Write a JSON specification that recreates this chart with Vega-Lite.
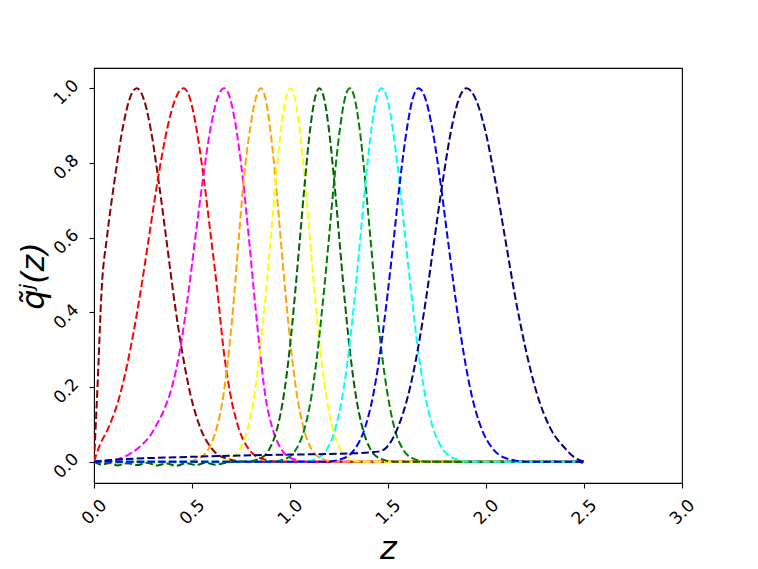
{
"$schema":"https://vega.github.io/schema/vega-lite/v6.json",
"width":588,"height":415,
"autosize":"none",
"padding":{"left":94,"top":68,"right":76,"bottom":86},
"background":"white",
"config":{"view":{"stroke":"black","strokeWidth":1.1},
"axis":{"labelFont":"DejaVu Sans","labelColor":"black","tickColor":"black","tickSize":5,"tickWidth":1.1,"domain":false,"grid":false,"titleFont":"DejaVu Sans","titleColor":"black","titleFontWeight":"normal","titleFontStyle":"italic","titleFontSize":32}},
"data":{"values":[
{"s":"s01","z":0,"q":0},{"s":"s01","z":0.017,"q":0.19},{"s":"s01","z":0.04,"q":0.47},{"s":"s01","z":0.066,"q":0.6},{"s":"s01","z":0.104,"q":0.75},{"s":"s01","z":0.149,"q":0.9},{"s":"s01","z":0.181,"q":0.97},{"s":"s01","z":0.218,"q":1},{"s":"s01","z":0.2545,"q":0.97},{"s":"s01","z":0.286,"q":0.9},{"s":"s01","z":0.33,"q":0.75},{"s":"s01","z":0.368,"q":0.6},{"s":"s01","z":0.405,"q":0.45},{"s":"s01","z":0.448,"q":0.3},{"s":"s01","z":0.492,"q":0.18},{"s":"s01","z":0.543,"q":0.09},{"s":"s01","z":0.601,"q":0.035},{"s":"s01","z":0.667,"q":0.01},{"s":"s01","z":0.78,"q":0},{"s":"s01","z":2.5,"q":0},
{"s":"s02","z":0,"q":0},{"s":"s02","z":0.03,"q":0.045},{"s":"s02","z":0.073,"q":0.09},{"s":"s02","z":0.133,"q":0.18},{"s":"s02","z":0.185,"q":0.3},{"s":"s02","z":0.236,"q":0.45},{"s":"s02","z":0.28,"q":0.6},{"s":"s02","z":0.324,"q":0.75},{"s":"s02","z":0.377,"q":0.9},{"s":"s02","z":0.414,"q":0.97},{"s":"s02","z":0.457,"q":1},{"s":"s02","z":0.491,"q":0.97},{"s":"s02","z":0.52,"q":0.9},{"s":"s02","z":0.562,"q":0.75},{"s":"s02","z":0.597,"q":0.6},{"s":"s02","z":0.631,"q":0.45},{"s":"s02","z":0.661,"q":0.3},{"s":"s02","z":0.696,"q":0.18},{"s":"s02","z":0.738,"q":0.09},{"s":"s02","z":0.788,"q":0.035},{"s":"s02","z":0.845,"q":0.01},{"s":"s02","z":0.95,"q":0},{"s":"s02","z":2.5,"q":0},
{"s":"s03","z":0,"q":0},{"s":"s03","z":0.08,"q":0.003},{"s":"s03","z":0.14,"q":0.01},{"s":"s03","z":0.196,"q":0.025},{"s":"s03","z":0.25,"q":0.048},{"s":"s03","z":0.29,"q":0.072},{"s":"s03","z":0.315,"q":0.095},{"s":"s03","z":0.358,"q":0.14},{"s":"s03","z":0.395,"q":0.195},{"s":"s03","z":0.439,"q":0.3},{"s":"s03","z":0.481,"q":0.45},{"s":"s03","z":0.517,"q":0.6},{"s":"s03","z":0.554,"q":0.75},{"s":"s03","z":0.597,"q":0.9},{"s":"s03","z":0.628,"q":0.97},{"s":"s03","z":0.664,"q":1},{"s":"s03","z":0.696,"q":0.97},{"s":"s03","z":0.723,"q":0.9},{"s":"s03","z":0.761,"q":0.75},{"s":"s03","z":0.79,"q":0.6},{"s":"s03","z":0.817,"q":0.45},{"s":"s03","z":0.846,"q":0.3},{"s":"s03","z":0.873,"q":0.18},{"s":"s03","z":0.91,"q":0.09},{"s":"s03","z":0.954,"q":0.035},{"s":"s03","z":1.004,"q":0.01},{"s":"s03","z":1.09,"q":0},{"s":"s03","z":2.5,"q":0},
{"s":"s04","z":0,"q":0},{"s":"s04","z":0.05,"q":-0.006},{"s":"s04","z":0.1,"q":-0.004},{"s":"s04","z":0.15,"q":-0.006},{"s":"s04","z":0.2,"q":0},{"s":"s04","z":0.46,"q":0},{"s":"s04","z":0.539,"q":0.01},{"s":"s04","z":0.585,"q":0.035},{"s":"s04","z":0.626,"q":0.09},{"s":"s04","z":0.661,"q":0.18},{"s":"s04","z":0.689,"q":0.3},{"s":"s04","z":0.716,"q":0.45},{"s":"s04","z":0.739,"q":0.6},{"s":"s04","z":0.763,"q":0.75},{"s":"s04","z":0.799,"q":0.9},{"s":"s04","z":0.824,"q":0.97},{"s":"s04","z":0.852,"q":1},{"s":"s04","z":0.876,"q":0.97},{"s":"s04","z":0.897,"q":0.9},{"s":"s04","z":0.927,"q":0.75},{"s":"s04","z":0.952,"q":0.6},{"s":"s04","z":0.977,"q":0.45},{"s":"s04","z":1.006,"q":0.3},{"s":"s04","z":1.035,"q":0.18},{"s":"s04","z":1.069,"q":0.09},{"s":"s04","z":1.108,"q":0.035},{"s":"s04","z":1.153,"q":0.01},{"s":"s04","z":1.228,"q":0},{"s":"s04","z":2.5,"q":0},
{"s":"s05","z":0,"q":0},{"s":"s05","z":0.25,"q":-0.004},{"s":"s05","z":0.35,"q":-0.006},{"s":"s05","z":0.45,"q":-0.003},{"s":"s05","z":0.55,"q":0},{"s":"s05","z":0.626,"q":0},{"s":"s05","z":0.702,"q":0.01},{"s":"s05","z":0.746,"q":0.035},{"s":"s05","z":0.785,"q":0.09},{"s":"s05","z":0.819,"q":0.18},{"s":"s05","z":0.848,"q":0.3},{"s":"s05","z":0.877,"q":0.45},{"s":"s05","z":0.902,"q":0.6},{"s":"s05","z":0.927,"q":0.75},{"s":"s05","z":0.957,"q":0.9},{"s":"s05","z":0.978,"q":0.97},{"s":"s05","z":1.002,"q":1},{"s":"s05","z":1.026,"q":0.97},{"s":"s05","z":1.047,"q":0.9},{"s":"s05","z":1.076,"q":0.75},{"s":"s05","z":1.101,"q":0.6},{"s":"s05","z":1.126,"q":0.45},{"s":"s05","z":1.154,"q":0.3},{"s":"s05","z":1.184,"q":0.18},{"s":"s05","z":1.217,"q":0.09},{"s":"s05","z":1.256,"q":0.035},{"s":"s05","z":1.299,"q":0.01},{"s":"s05","z":1.374,"q":0},{"s":"s05","z":2.5,"q":0},
{"s":"s06","z":0,"q":0},{"s":"s06","z":0.04,"q":-0.008},{"s":"s06","z":0.08,"q":-0.003},{"s":"s06","z":0.12,"q":-0.01},{"s":"s06","z":0.17,"q":-0.004},{"s":"s06","z":0.22,"q":-0.009},{"s":"s06","z":0.27,"q":-0.003},{"s":"s06","z":0.32,"q":-0.01},{"s":"s06","z":0.37,"q":-0.005},{"s":"s06","z":0.42,"q":-0.011},{"s":"s06","z":0.47,"q":-0.004},{"s":"s06","z":0.52,"q":-0.009},{"s":"s06","z":0.57,"q":-0.003},{"s":"s06","z":0.62,"q":-0.008},{"s":"s06","z":0.68,"q":-0.002},{"s":"s06","z":0.74,"q":0},{"s":"s06","z":0.778,"q":0},{"s":"s06","z":0.853,"q":0.01},{"s":"s06","z":0.896,"q":0.035},{"s":"s06","z":0.935,"q":0.09},{"s":"s06","z":0.969,"q":0.18},{"s":"s06","z":0.998,"q":0.3},{"s":"s06","z":1.026,"q":0.45},{"s":"s06","z":1.051,"q":0.6},{"s":"s06","z":1.076,"q":0.75},{"s":"s06","z":1.105,"q":0.9},{"s":"s06","z":1.126,"q":0.97},{"s":"s06","z":1.15,"q":1},{"s":"s06","z":1.175,"q":0.97},{"s":"s06","z":1.196,"q":0.9},{"s":"s06","z":1.226,"q":0.75},{"s":"s06","z":1.251,"q":0.6},{"s":"s06","z":1.276,"q":0.45},{"s":"s06","z":1.305,"q":0.3},{"s":"s06","z":1.335,"q":0.18},{"s":"s06","z":1.37,"q":0.09},{"s":"s06","z":1.409,"q":0.035},{"s":"s06","z":1.454,"q":0.01},{"s":"s06","z":1.53,"q":0},{"s":"s06","z":2.5,"q":0},
{"s":"s07","z":0,"q":0},{"s":"s07","z":0.906,"q":0},{"s":"s07","z":0.986,"q":0.01},{"s":"s07","z":1.033,"q":0.035},{"s":"s07","z":1.075,"q":0.09},{"s":"s07","z":1.111,"q":0.18},{"s":"s07","z":1.142,"q":0.3},{"s":"s07","z":1.172,"q":0.45},{"s":"s07","z":1.199,"q":0.6},{"s":"s07","z":1.225,"q":0.75},{"s":"s07","z":1.257,"q":0.9},{"s":"s07","z":1.279,"q":0.97},{"s":"s07","z":1.305,"q":1},{"s":"s07","z":1.331,"q":0.97},{"s":"s07","z":1.353,"q":0.9},{"s":"s07","z":1.384,"q":0.75},{"s":"s07","z":1.41,"q":0.6},{"s":"s07","z":1.436,"q":0.45},{"s":"s07","z":1.466,"q":0.3},{"s":"s07","z":1.498,"q":0.18},{"s":"s07","z":1.533,"q":0.09},{"s":"s07","z":1.574,"q":0.035},{"s":"s07","z":1.621,"q":0.01},{"s":"s07","z":1.7,"q":0},{"s":"s07","z":2.5,"q":0},
{"s":"s08","z":0,"q":0},{"s":"s08","z":1.06,"q":0},{"s":"s08","z":1.142,"q":0.01},{"s":"s08","z":1.19,"q":0.035},{"s":"s08","z":1.232,"q":0.09},{"s":"s08","z":1.269,"q":0.18},{"s":"s08","z":1.301,"q":0.3},{"s":"s08","z":1.332,"q":0.45},{"s":"s08","z":1.359,"q":0.6},{"s":"s08","z":1.386,"q":0.75},{"s":"s08","z":1.418,"q":0.9},{"s":"s08","z":1.441,"q":0.97},{"s":"s08","z":1.467,"q":1},{"s":"s08","z":1.497,"q":0.97},{"s":"s08","z":1.522,"q":0.9},{"s":"s08","z":1.558,"q":0.75},{"s":"s08","z":1.588,"q":0.6},{"s":"s08","z":1.619,"q":0.45},{"s":"s08","z":1.653,"q":0.3},{"s":"s08","z":1.689,"q":0.18},{"s":"s08","z":1.73,"q":0.09},{"s":"s08","z":1.778,"q":0.035},{"s":"s08","z":1.831,"q":0.01},{"s":"s08","z":1.923,"q":0},{"s":"s08","z":2.5,"q":0},
{"s":"s09","z":0,"q":0},{"s":"s09","z":1.181,"q":0},{"s":"s09","z":1.277,"q":0.01},{"s":"s09","z":1.332,"q":0.035},{"s":"s09","z":1.382,"q":0.09},{"s":"s09","z":1.425,"q":0.18},{"s":"s09","z":1.462,"q":0.3},{"s":"s09","z":1.498,"q":0.45},{"s":"s09","z":1.53,"q":0.6},{"s":"s09","z":1.561,"q":0.75},{"s":"s09","z":1.599,"q":0.9},{"s":"s09","z":1.625,"q":0.97},{"s":"s09","z":1.656,"q":1},{"s":"s09","z":1.692,"q":0.97},{"s":"s09","z":1.723,"q":0.9},{"s":"s09","z":1.767,"q":0.75},{"s":"s09","z":1.804,"q":0.6},{"s":"s09","z":1.841,"q":0.45},{"s":"s09","z":1.883,"q":0.3},{"s":"s09","z":1.926,"q":0.18},{"s":"s09","z":1.976,"q":0.09},{"s":"s09","z":2.034,"q":0.035},{"s":"s09","z":2.099,"q":0.01},{"s":"s09","z":2.211,"q":0},{"s":"s09","z":2.47,"q":0},{"s":"s09","z":2.5,"q":-0.005},
{"s":"s10","z":0,"q":0},{"s":"s10","z":0.05,"q":0.003},{"s":"s10","z":0.2,"q":0.008},{"s":"s10","z":0.43,"q":0.012},{"s":"s10","z":0.7,"q":0.016},{"s":"s10","z":1.0,"q":0.019},{"s":"s10","z":1.3,"q":0.022},{"s":"s10","z":1.45,"q":0.027},{"s":"s10","z":1.486,"q":0.035},{"s":"s10","z":1.549,"q":0.09},{"s":"s10","z":1.604,"q":0.18},{"s":"s10","z":1.652,"q":0.3},{"s":"s10","z":1.698,"q":0.45},{"s":"s10","z":1.738,"q":0.6},{"s":"s10","z":1.779,"q":0.75},{"s":"s10","z":1.827,"q":0.9},{"s":"s10","z":1.861,"q":0.97},{"s":"s10","z":1.9,"q":1},{"s":"s10","z":1.948,"q":0.97},{"s":"s10","z":1.99,"q":0.9},{"s":"s10","z":2.048,"q":0.75},{"s":"s10","z":2.097,"q":0.6},{"s":"s10","z":2.146,"q":0.45},{"s":"s10","z":2.203,"q":0.3},{"s":"s10","z":2.261,"q":0.18},{"s":"s10","z":2.328,"q":0.09},{"s":"s10","z":2.405,"q":0.035},{"s":"s10","z":2.45,"q":0.012},{"s":"s10","z":2.5,"q":0}
]},
"mark":{"type":"line","interpolate":"monotone","strokeWidth":2,"strokeDash":[7.5,3.2],"clip":true},
"encoding":{
"x":{"field":"z","type":"quantitative","scale":{"domain":[0,3],"nice":false,"zero":false},
"axis":{"values":[0,0.5,1,1.5,2,2.5,3],"format":".1f","labelFontSize":17,"labelAngle":-45,"labelAlign":"center","labelBaseline":"middle","labelPadding":24,"title":"z","titlePadding":6}},
"y":{"field":"q","type":"quantitative","scale":{"domain":[-0.057,1.054],"nice":false,"zero":false},
"axis":{"values":[0,0.2,0.4,0.6,0.8,1.0],"format":".1f","labelFontSize":17,"labelAngle":-45,"labelAlign":"center","labelBaseline":"middle","labelPadding":23,"labelOffset":4,"title":"q̃ʲ(z)","titlePadding":0}},
"color":{"field":"s","type":"nominal","scale":{"domain":["s01","s02","s03","s04","s05","s06","s07","s08","s09","s10"],"range":["#8b0000","#ff0000","#ff00ff","#ffa500","#ffff00","#006400","#008000","#00ffff","#0000ff","#000080"]},"legend":null}
}
}
